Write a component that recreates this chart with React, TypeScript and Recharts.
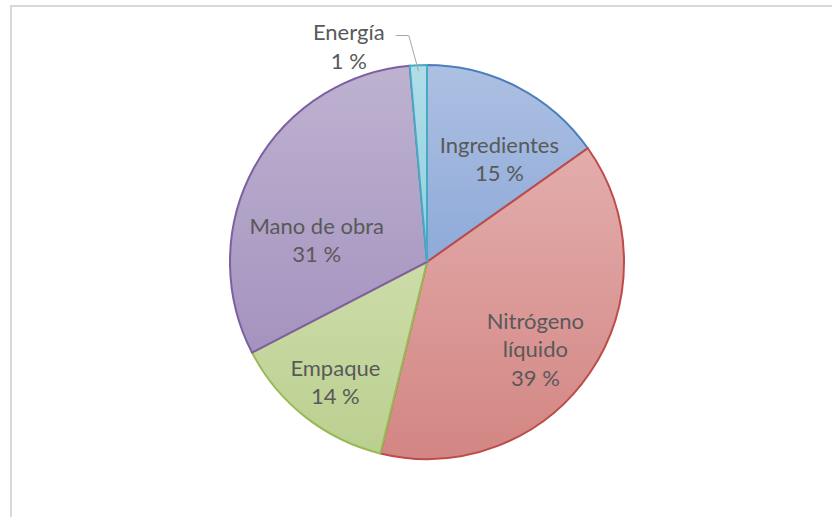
import React from "react";
import { PieChart, Pie, Cell } from "recharts";

const categories = ["Ingredientes", "Nitrógeno líquido", "Empaque", "Mano de obra", "Energía"];
const values = [15.2, 38.6, 13.6, 31.2, 1.4];
const percentLabels = ["15 %", "39 %", "14 %", "31 %", "1 %"];
const labelLines = [["Ingredientes"], ["Nitrógeno", "líquido"], ["Empaque"], ["Mano de obra"], ["Energía"]];

const fillTop = ["#adc0e2", "#e2adac", "#cddcaa", "#beb2d0", "#b0dde8"];
const fillBottom = ["#8eaad9", "#d38683", "#bad08f", "#a593bf", "#94cfdf"];
const strokes = ["#4a7ebb", "#be4b48", "#98b954", "#7d60a0", "#46aac5"];

// label placement tweaks: compass-angle shift (deg) and radius fraction
const labelAngleShift = [8, 5, -1, -18, -17.5];
const labelRadiusFrac = [0.635, 0.71, 0.77, 0.57, 1.16];

const data = categories.map((name, i) => ({ name, value: values[i] }));

const RAD = Math.PI / 180;

const renderLabel = (props: any) => {
  const { cx, cy, midAngle, outerRadius, index } = props;
  const compass = 90 - midAngle + labelAngleShift[index];
  const r = outerRadius * labelRadiusFrac[index];
  const x = cx + r * Math.sin(compass * RAD);
  const y = cy - r * Math.cos(compass * RAD) - 1.5;
  const lines = [...labelLines[index], percentLabels[index]];
  const lh = 28.5;
  const y0 = y - ((lines.length - 1) * lh) / 2;
  const els: any[] = lines.map((t, k) => (
    <text
      key={k}
      x={x}
      y={y0 + k * lh}
      textAnchor="middle"
      dominantBaseline="central"
      fill="#595959"
      fontSize={22}
      fontFamily="Lato, 'Open Sans', sans-serif"
    >
      {t}
    </text>
  ));
  if (index === 4) {
    const cmp = 90 - midAngle;
    const ex = cx + outerRadius * 0.97 * Math.sin(cmp * RAD);
    const ey = cy - outerRadius * 0.97 * Math.cos(cmp * RAD);
    const sx = x + 47;
    const sy = y0 + 4;
    els.push(
      <polyline
        key="leader"
        points={`${sx},${sy} ${sx + 13},${sy} ${ex},${ey}`}
        fill="none"
        stroke="#a6a6a6"
        strokeWidth={1}
      />
    );
  }
  return <g>{els}</g>;
};

export default function App() {
  return (
    <div style={{ position: "absolute", left: 0, top: 0, width: 832, height: 517, background: "#fff", overflow: "hidden" }}>
      <div
        style={{
          position: "absolute",
          left: 10,
          top: 5,
          width: 840,
          height: 540,
          border: "2px solid #d9d9d9",
          boxSizing: "border-box",
        }}
      />
      <div style={{ position: "absolute", left: 0, top: 0 }}>
        <PieChart width={832} height={517} margin={{ top: 0, right: 0, bottom: 0, left: 0 }}>
          <defs>
            {categories.map((c, i) => (
              <linearGradient key={c} id={`g${i}`} x1="0" y1="0" x2="0" y2="1">
                <stop offset="0%" stopColor={fillTop[i]} />
                <stop offset="100%" stopColor={fillBottom[i]} />
              </linearGradient>
            ))}
          </defs>
          <Pie
            data={data}
            dataKey="value"
            nameKey="name"
            cx={427}
            cy={262}
            outerRadius={197}
            startAngle={90}
            endAngle={-270}
            isAnimationActive={false}
            label={renderLabel}
            labelLine={false}
          >
            {data.map((d, i) => (
              <Cell key={d.name} fill={`url(#g${i})`} stroke={strokes[i]} strokeWidth={2} />
            ))}
          </Pie>
        </PieChart>
      </div>
    </div>
  );
}
